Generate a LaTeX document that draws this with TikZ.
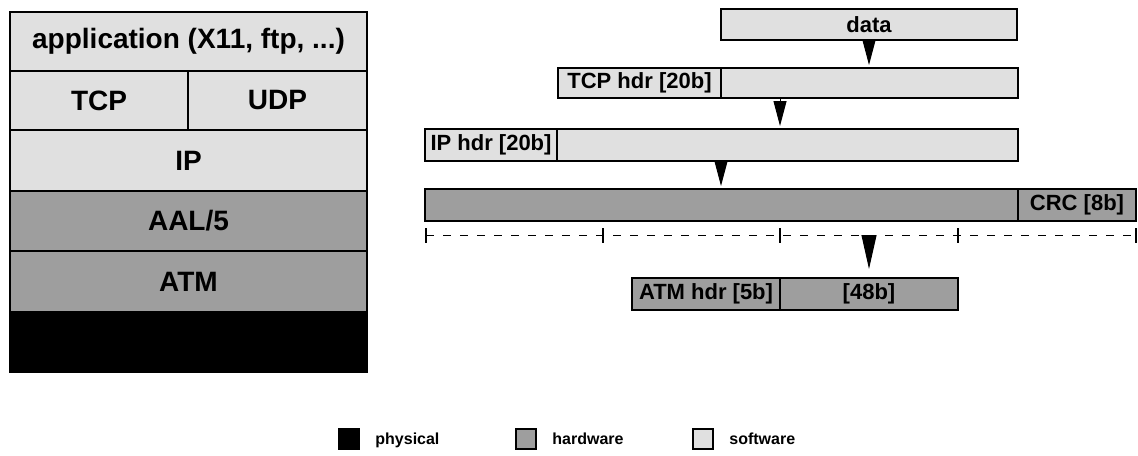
\documentclass[tikz,border=0pt]{standalone}
\usepackage{fontspec}
\setmainfont{Liberation Sans}
\usetikzlibrary{arrows.meta, positioning}

\tikzset{
  sw/.style={draw, line width=1pt, fill=black!12, inner sep=0pt, outer sep=0pt, anchor=north west},
  hw/.style={sw, fill=black!38},
  ph/.style={sw, fill=black},
  wd/.style={minimum width=#1*0.5pt},
  ht/.style={minimum height=#1*0.5pt},
  layer/.style={font=\fontsize{14}{16}\selectfont\bfseries},
  field/.style={font=\fontsize{11}{13}\selectfont\bfseries},
  wedge/.style={-{Triangle[length=12.5pt, width=6.5pt]}, line width=0.5pt, shorten >=1.5pt},
  bigwedge/.style={-{Triangle[length=17pt, width=7.5pt]}, line width=0.5pt, shorten >=4.5pt},
  legend/.style={font=\fontsize{8}{10}\selectfont\bfseries, inner sep=0pt, anchor=west,
    text height=0.75em, text depth=0.2em}
}

\begin{document}
\begin{tikzpicture}[x=0.5pt, y=-0.5pt]
    \useasboundingbox (0,0) rectangle (1138,455);

    % Protocol stack
    \node[sw, layer, wd=357, ht=59] (app) at (10,12) {application (X11, ftp, ...)};
    \node[sw, layer, wd=178, ht=59] (tcp) at (10,71) {TCP};
    \node[sw, layer, wd=179, ht=59, right=0pt of tcp] (udp) {UDP};
    \node[sw, layer, wd=357, ht=61] (ip) at (10,130) {IP};
    \node[hw, layer, wd=357, ht=60] (aal) at (10,191) {AAL/5};
    \node[hw, layer, wd=357, ht=61] (atm) at (10,251) {ATM};
    \node[ph, wd=357, ht=60] (phy) at (10,312) {};

    % Encapsulation
    \node[sw, field, wd=296, ht=31] (data) at (721,9) {data};
    \node[sw, field, wd=163, ht=30] (tcphdr) at (558,68) {TCP hdr [20b]};
    \node[sw, wd=297, ht=30, right=0pt of tcphdr] (tcpdata) {};
    \node[sw, field, wd=132, ht=32] (iphdr) at (425,129) {IP hdr [20b]};
    \node[sw, wd=461, ht=32, right=0pt of iphdr] (ipdata) {};
    \node[hw, wd=593, ht=32] (aalpdu) at (425,189) {};
    \node[hw, field, wd=118, ht=32, right=0pt of aalpdu] (crc) {CRC [8b]};

    % Cell boundaries
    \draw[dashed, line width=0.5pt, dash pattern=on 4pt off 4.5pt] (426,235) -- (1136,235);
    \foreach \x [count=\i from 0] in {426,603,780,958,1136} {
        \coordinate (t\i) at (\x,235);
        \draw[line width=0.6pt] (\x,228) -- (\x,243);
    }

    % ATM cell
    \node[hw, field, wd=148, ht=32] (atmhdr) at (632,278) {ATM hdr [5b]};
    \node[hw, field, wd=178, ht=32, right=0pt of atmhdr] (atmpay) {[48b]};

    % Arrows
    \coordinate (c1) at (780,0);
    \draw[wedge] (data.south) -- (data.south |- tcpdata.north);
    \draw[wedge] (tcpdata.south -| c1) -- (ipdata.north -| c1);
    \draw[wedge] (ipdata.south -| tcphdr.east) -- (aalpdu.north -| tcphdr.east);
    \draw[bigwedge] (t2 -| atmpay.north) -- (atmpay.north);

    % Legend
    \node[ph, wd=20, ht=20] (lphy) at (339,429) {};
    \node[legend, right=8pt of lphy] (tphy) {physical};
    \node[hw, wd=20, ht=20] (lhw) at (516,429) {};
    \node[legend, right=8pt of lhw] (thw) {hardware};
    \node[sw, wd=20, ht=20] (lsw) at (693,429) {};
    \node[legend, right=8pt of lsw] (tsw) {software};
\end{tikzpicture}
\end{document}
